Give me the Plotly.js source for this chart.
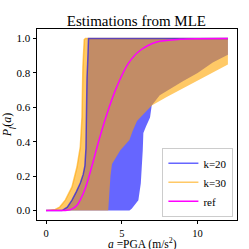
<!DOCTYPE html>
<html>
<head>
<meta charset="utf-8">
<script src="https://cdn.plot.ly/plotly-3.0.1.min.js"></script>
<style>html,body{margin:0;padding:0;background:#fff;}#chart{width:249px;height:249px;}</style>
</head>
<body>
<div id="chart"></div>
<script>
// k=20 band: upper (left) bound and lower (right) bound
const k20UpperX = [0, 1.05, 1.4, 1.71, 2.0, 2.26, 2.45, 2.56, 2.63, 2.65, 2.7, 2.74, 2.8, 12];
const k20UpperY = [0, 0, 0.02, 0.06, 0.11, 0.16, 0.21, 0.26, 0.36, 0.65, 0.77, 0.85, 1.0, 1.0];
const k20LowerX = [0, 5.5, 5.65, 6.09, 6.25, 6.31, 6.38, 6.42, 6.6, 6.86, 6.97, 7.5, 8.0, 9.0, 10.0, 11.0, 12];
const k20LowerY = [0, 0, 0.01, 0.06, 0.157, 0.25, 0.35, 0.45, 0.49, 0.54, 0.61, 0.67, 0.70, 0.75, 0.80, 0.86, 0.905];
// k=30 band
const k30UpperX = [0, 0.61, 0.9, 1.27, 1.71, 2.04, 2.26, 2.37, 2.43, 2.52, 2.6, 12];
const k30UpperY = [0, 0.006, 0.02, 0.06, 0.137, 0.253, 0.37, 0.544, 0.835, 0.994, 1.0, 1.0];
const k30LowerX = [0, 4.1, 4.15, 4.25, 4.35, 4.9, 5.5, 5.7, 6.0, 6.5, 6.97, 7.96, 9.05, 10.15, 12];
const k30LowerY = [0, 0, 0.1, 0.2, 0.27, 0.35, 0.41, 0.46, 0.52, 0.565, 0.61, 0.66, 0.715, 0.763, 0.849];
// reference curve
const refX = [0, 1.0, 1.38, 1.7, 2.04, 2.3, 2.59, 3.03, 3.46, 4.01, 4.67, 5.43, 6.2, 7.3, 8.84, 10, 12];
const refY = [0, 0, 0.001, 0.008, 0.03, 0.07, 0.13, 0.26, 0.40, 0.56, 0.72, 0.855, 0.93, 0.98, 0.995, 0.999, 1.0];

const xTicks = [0, 5, 10];
const xTickText = ['0', '5', '10'];
const yTicks = [0, 0.2, 0.4, 0.6, 0.8, 1.0];
const yTickText = ['0.0', '0.2', '0.4', '0.6', '0.8', '1.0'];
const xTitle = '<i>a</i> =PGA (m/s<sup>2</sup>)';

function band(ux, uy, lx, ly) {
  return {
    x: ux.concat(lx.slice().reverse()),
    y: uy.concat(ly.slice().reverse())
  };
}
const b20 = band(k20UpperX, k20UpperY, k20LowerX, k20LowerY);
const b30 = band(k30UpperX, k30UpperY, k30LowerX, k30LowerY);

const blueA = 'rgba(0,0,255,0.6)';
const orangeA = 'rgba(255,165,0,0.6)';

const traces = [
  {x: b20.x, y: b20.y, mode: 'lines', fill: 'toself', fillcolor: blueA, line: {width: 0, color: blueA}, showlegend: false, hoverinfo: 'skip'},
  {x: b30.x, y: b30.y, mode: 'lines', fill: 'toself', fillcolor: orangeA, line: {width: 0, color: orangeA}, showlegend: false, hoverinfo: 'skip'},
  {x: k30UpperX, y: k30UpperY, mode: 'lines', name: 'k=30', line: {color: orangeA, width: 1.5}, legendrank: 2},
  {x: k20UpperX, y: k20UpperY, mode: 'lines', name: 'k=20', line: {color: blueA, width: 1.5}, legendrank: 1},
  {x: refX, y: refY, mode: 'lines', name: 'ref', line: {color: '#ff00ff', width: 1.5, shape: 'spline'}, legendrank: 3}
];

const fam = 'Liberation Serif, DejaVu Serif, serif';

const layout = {
  width: 249, height: 249,
  margin: {l: 37, r: 12, t: 29, b: 29},
  paper_bgcolor: '#fff', plot_bgcolor: '#fff',
  font: {family: fam, color: '#000', size: 11},
  showlegend: true,
  title: {text: 'Estimations from MLE', font: {family: fam, size: 15, color: '#000'},
          x: 0.548, xanchor: 'center', yref: 'container', y: 0.918, yanchor: 'middle'},
  xaxis: {
    range: [-0.6, 12.6], showgrid: false, zeroline: false,
    showline: true, mirror: true, linecolor: '#000', linewidth: 1,
    ticks: 'outside', ticklen: 3, tickcolor: '#000',
    tickvals: xTicks, ticktext: xTickText, tickfont: {size: 10.5}
  },
  yaxis: {
    range: [-0.055, 1.055], showgrid: false, zeroline: false,
    showline: true, mirror: true, linecolor: '#000', linewidth: 1,
    ticks: 'outside', ticklen: 3.5, tickcolor: '#000',
    tickvals: yTicks, ticktext: yTickText, tickfont: {size: 11},
    title: {text: '<i>P</i><sub><i>f</i></sub>(<i>a</i>)', font: {size: 12}, standoff: 3}
  },
  annotations: [{
    text: xTitle, xref: 'paper', yref: 'paper', x: 0.525, y: -0.123,
    xanchor: 'center', yanchor: 'middle', showarrow: false, font: {size: 11.5}
  }],
  legend: {
    x: 0.982, y: 0.017, xanchor: 'right', yanchor: 'bottom',
    bgcolor: 'rgba(255,255,255,0.8)', bordercolor: '#cccccc', borderwidth: 1,
    font: {size: 11}, itemwidth: 30, tracegroupgap: 0
  }
};

Plotly.newPlot('chart', traces, layout, {staticPlot: true, displayModeBar: false});
</script>
</body>
</html>
